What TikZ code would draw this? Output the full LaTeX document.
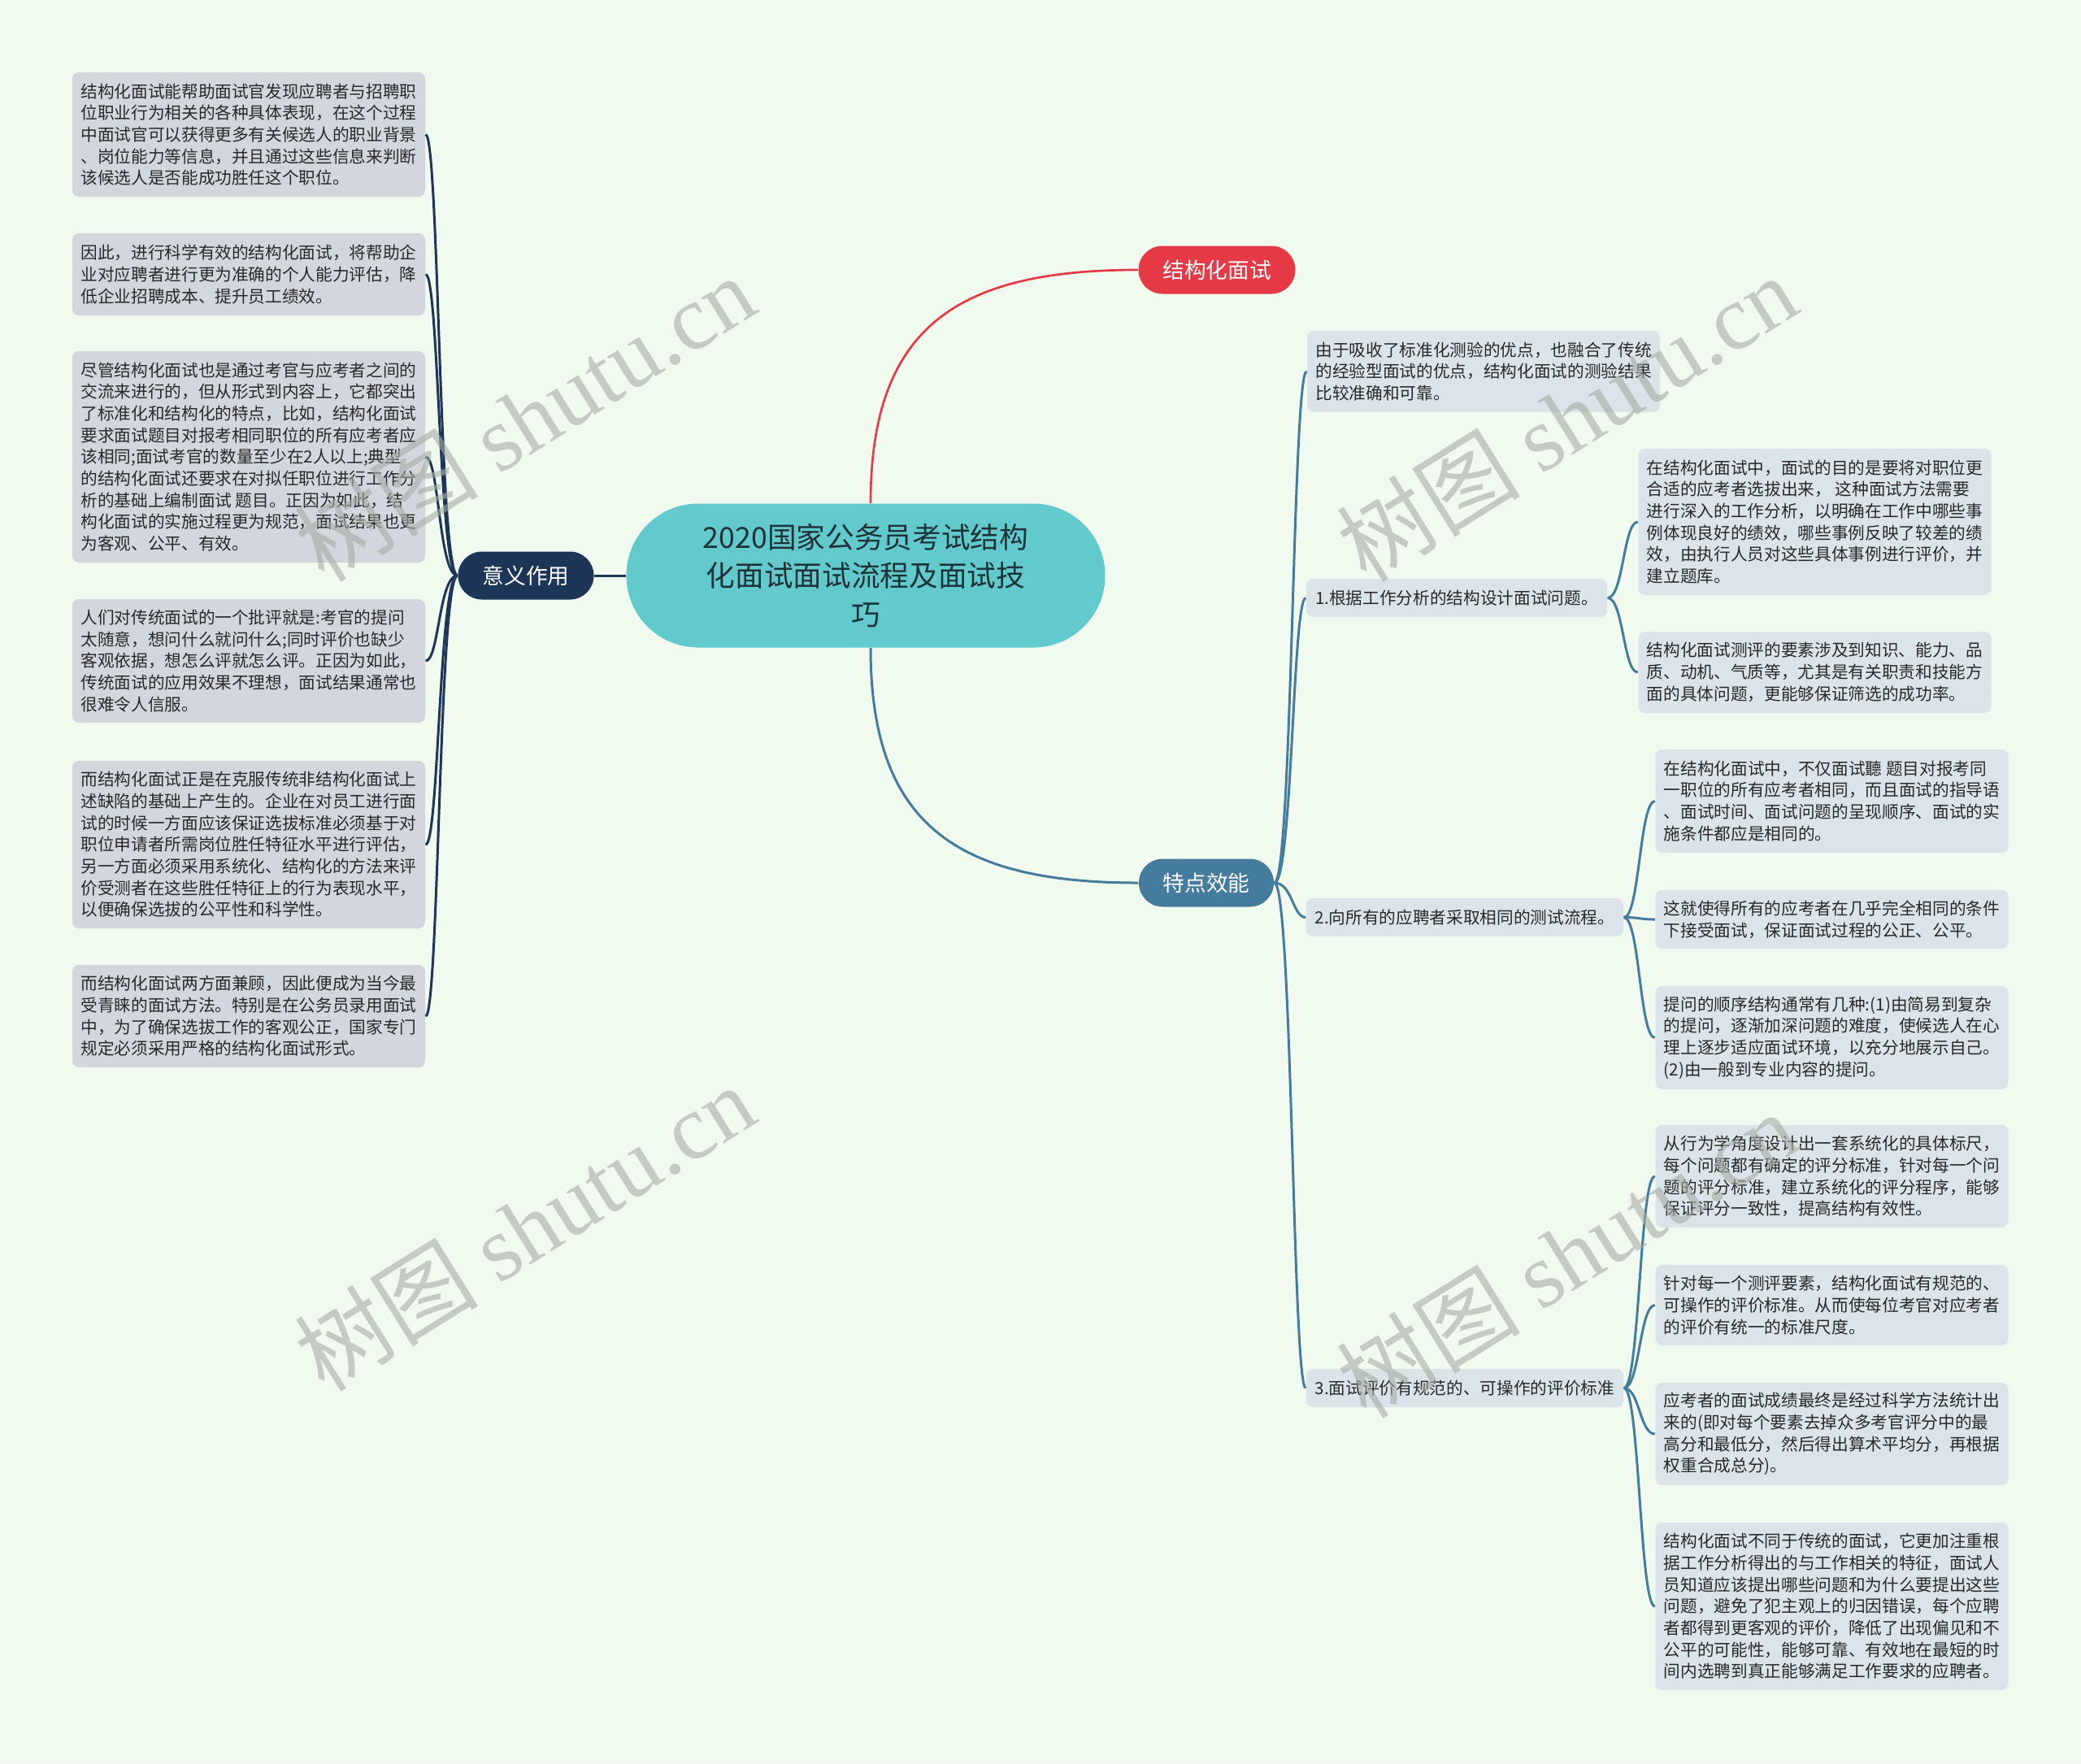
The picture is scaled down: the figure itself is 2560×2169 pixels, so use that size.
\documentclass[tikz,border=0pt]{standalone}
\usepackage{fontspec}
\setmainfont{Noto Sans CJK SC}
\newfontfamily\wmserif{Liberation Serif}
\definecolor{bgc}{RGB}{241,250,238}
\definecolor{centerc}{RGB}{98,202,204}
\definecolor{redc}{RGB}{230,57,70}
\definecolor{bluec}{RGB}{69,123,157}
\definecolor{navyc}{RGB}{29,53,87}
\definecolor{leafl}{RGB}{210,215,222}
\definecolor{leafr}{RGB}{219,228,233}
\definecolor{txt}{RGB}{40,40,40}
\definecolor{ctxt}{RGB}{30,50,55}
\definecolor{wmc}{RGB}{165,172,165}
\begin{document}
\begin{tikzpicture}[x=0.3pt,y=-0.3pt,
  leafbox/.style={rounded corners=2.4pt, align=left, inner sep=0pt, minimum width=130.2pt,
    font=\fontsize{6.2}{8}\selectfont, text=txt},
  lleaf/.style={leafbox, fill=leafl},
  rleaf/.style={leafbox, fill=leafr},
  midbox/.style={fill=leafr, rounded corners=2.4pt, inner sep=0pt, minimum height=14.1pt,
    font=\fontsize{6.2}{8}\selectfont, text=txt},
  catbox/.style={rounded corners=8.8pt, inner sep=0pt, minimum height=17.7pt,
    font=\fontsize{8}{10}\selectfont, text=white},
  navyline/.style={draw=navyc, line width=0.9pt},
  blueline/.style={draw=bluec, line width=0.9pt},
  redline/.style={draw=redc, line width=0.8pt},
  wm/.style={text=wmc, opacity=0.6, font=\fontsize{34}{40}\selectfont, inner sep=0pt}
]
\useasboundingbox (0,0) rectangle (2560,2169);
\fill[bgc] (0,0) rectangle (2560,2169);

% central and category nodes
\node[fill=centerc, rounded corners=26.5pt, minimum width=176.7pt, minimum height=53.1pt,
  inner sep=0pt, align=center, text=ctxt, font=\fontsize{10.7}{14.25}\selectfont]
  (c) at (1065,708) {2020国家公务员考试结构\\化面试面试流程及面试技\\巧};
\node[catbox, fill=redc, minimum width=57.9pt] (jg) at (1497,332) {结构化面试};
\node[catbox, fill=bluec, minimum width=49.8pt] (td) at (1484,1086) {特点效能};
\node[catbox, fill=navyc, minimum width=50.1pt] (yy) at (647,708) {意义作用};

% left leaves
\node[lleaf, minimum height=45.9pt] (L1) at (306,165.5) {结构化面试能帮助面试官发现应聘者与招聘职\\位职业行为相关的各种具体表现，在这个过程\\中面试官可以获得更多有关候选人的职业背景\\、岗位能力等信息，并且通过这些信息来判断\\该候选人是否能成功胜任这个职位。};
\node[lleaf, minimum height=30.3pt] (L2) at (306,337.5) {因此，进行科学有效的结构化面试，将帮助企\\业对应聘者进行更为准确的个人能力评估，降\\低企业招聘成本、提升员工绩效。};
\node[lleaf, minimum height=78pt] (L3) at (306,562) {尽管结构化面试也是通过考官与应考者之间的\\交流来进行的，但从形式到内容上，它都突出\\了标准化和结构化的特点，比如，结构化面试\\要求面试题目对报考相同职位的所有应考者应\\该相同;面试考官的数量至少在2人以上;典型\\的结构化面试还要求在对拟任职位进行工作分\\析的基础上编制面试 题目。正因为如此，结\\构化面试的实施过程更为规范，面试结果也更\\为客观、公平、有效。};
\node[lleaf, minimum height=45.6pt] (L4) at (306,813) {人们对传统面试的一个批评就是:考官的提问\\太随意，想问什么就问什么;同时评价也缺少\\客观依据，想怎么评就怎么评。正因为如此，\\传统面试的应用效果不理想，面试结果通常也\\很难令人信服。};
\node[lleaf, minimum height=61.8pt] (L5) at (306,1039) {而结构化面试正是在克服传统非结构化面试上\\述缺陷的基础上产生的。企业在对员工进行面\\试的时候一方面应该保证选拔标准必须基于对\\职位申请者所需岗位胜任特征水平进行评估，\\另一方面必须采用系统化、结构化的方法来评\\价受测者在这些胜任特征上的行为表现水平，\\以便确保选拔的公平性和科学性。};
\node[lleaf, minimum height=37.8pt] (L6) at (306,1250) {而结构化面试两方面兼顾，因此便成为当今最\\受青睐的面试方法。特别是在公务员录用面试\\中，为了确保选拔工作的客观公正，国家专门\\规定必须采用严格的结构化面试形式。};

% right side
\node[rleaf, minimum height=30pt] (R0) at (1825,457) {由于吸收了标准化测验的优点，也融合了传统\\的经验型面试的优点，结构化面试的测验结果\\比较准确和可靠。};
\node[midbox, minimum width=111pt] (M1) at (1792,735.5) {1.根据工作分析的结构设计面试问题。};
\node[midbox, minimum width=117pt] (M2) at (1802,1128.5) {2.向所有的应聘者采取相同的测试流程。};
\node[midbox, minimum width=117pt] (M3) at (1802,1707.5) {3.面试评价有规范的、可操作的评价标准};

\node[rleaf, minimum height=54pt] (R1a) at (2232.5,642) {在结构化面试中，面试的目的是要将对职位更\\合适的应考者选拔出来， 这种面试方法需要\\进行深入的工作分析，以明确在工作中哪些事\\例体现良好的绩效，哪些事例反映了较差的绩\\效，由执行人员对这些具体事例进行评价，并\\建立题库。};
\node[rleaf, minimum height=30pt] (R1b) at (2232.5,827) {结构化面试测评的要素涉及到知识、能力、品\\质、动机、气质等，尤其是有关职责和技能方\\面的具体问题，更能够保证筛选的成功率。};

\node[rleaf, minimum height=38.1pt] (R2a) at (2253.5,985.5) {在结构化面试中，不仅面试聽 题目对报考同\\一职位的所有应考者相同，而且面试的指导语\\、面试时间、面试问题的呈现顺序、面试的实\\施条件都应是相同的。};
\node[rleaf, minimum height=21.6pt] (R2b) at (2253.5,1131) {这就使得所有的应考者在几乎完全相同的条件\\下接受面试，保证面试过程的公正、公平。};
\node[rleaf, minimum height=38.1pt] (R2c) at (2253.5,1276.5) {提问的顺序结构通常有几种:(1)由简易到复杂\\的提问，逐渐加深问题的难度，使候选人在心\\理上逐步适应面试环境，以充分地展示自己。\\(2)由一般到专业内容的提问。};

\node[rleaf, minimum height=37.8pt] (R3a) at (2253.5,1447) {从行为学角度设计出一套系统化的具体标尺，\\每个问题都有确定的评分标准，针对每一个问\\题的评分标准，建立系统化的评分程序，能够\\保证评分一致性，提高结构有效性。};
\node[rleaf, minimum height=29.7pt] (R3b) at (2253.5,1605.5) {针对每一个测评要素，结构化面试有规范的、\\可操作的评价标准。从而使每位考官对应考者\\的评价有统一的标准尺度。};
\node[rleaf, minimum height=37.8pt] (R3c) at (2253.5,1764) {应考者的面试成绩最终是经过科学方法统计出\\来的(即对每个要素去掉众多考官评分中的最\\高分和最低分，然后得出算术平均分，再根据\\权重合成总分)。};
\node[rleaf, minimum height=61.8pt] (R3d) at (2253.5,1976) {结构化面试不同于传统的面试，它更加注重根\\据工作分析得出的与工作相关的特征，面试人\\员知道应该提出哪些问题和为什么要提出这些\\问题，避免了犯主观上的归因错误，每个应聘\\者都得到更客观的评价，降低了出现偏见和不\\公平的可能性，能够可靠、有效地在最短的时\\间内选聘到真正能够满足工作要求的应聘者。};

% connectors: center to categories
\coordinate (ctop) at ([xshift=1.8pt]c.north);
\coordinate (cbot) at ([xshift=1.8pt]c.south);
\draw[redline] (ctop) .. controls (1071,400) and (1180,332) .. (jg.west);
\draw[blueline] (cbot) .. controls (1071,1017) and (1180,1086) .. (td.west);
\draw[navyline] (yy.east) -- (c.west);

% left connectors
\foreach \n/\y in {L1/165.5, L2/337.5, L3/562, L4/813, L5/1039, L6/1250}
  \draw[navyline] (yy.west) .. controls (540,708) and (540,\y) .. (\n.east);

% right connectors from 特点效能
\foreach \n/\y in {R0/457, M1/735.5, M2/1128.5, M3/1707.5}
  \draw[blueline] (td.east) .. controls (1590,1086) and (1590,\y) .. (\n.west);

% sub connectors
\foreach \n/\y in {R1a/642, R1b/827}
  \draw[blueline] (M1.east) .. controls (1997,735.5) and (1997,\y) .. (\n.west);
\foreach \n/\y in {R2a/985.5, R2b/1131, R2c/1276.5}
  \draw[blueline] (M2.east) .. controls (2017,1128.5) and (2017,\y) .. (\n.west);
\foreach \n/\y in {R3a/1447, R3b/1605.5, R3c/1764, R3d/1976}
  \draw[blueline] (M3.east) .. controls (2017,1707.5) and (2017,\y) .. (\n.west);

% watermarks
\node[wm, rotate=32] (w1) at (645,514) {树图 {\wmserif shutu.cn}};
\node[wm, rotate=32] (w2) at (1927,514) {树图 {\wmserif shutu.cn}};
\node[wm, rotate=32] (w3) at (645,1510) {树图 {\wmserif shutu.cn}};
\node[wm, rotate=32] (w4) at (1927,1543) {树图 {\wmserif shutu.cn}};
\end{tikzpicture}
\end{document}
